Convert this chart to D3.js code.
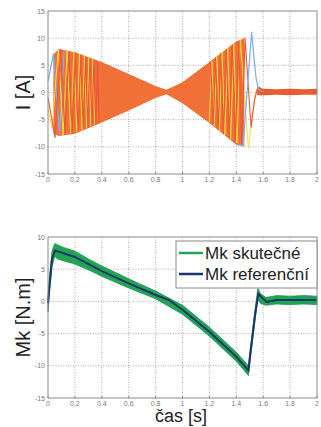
<!DOCTYPE html>
<html>
<head>
<meta charset="utf-8">
<script src="https://cdn.jsdelivr.net/npm/d3@7"></script>
<style>
  html, body { margin: 0; padding: 0; background: #fff; }
  svg { display: block; font-family: "Liberation Sans", Arial, sans-serif; }
</style>
</head>
<body>
<svg id="chart" width="321" height="427"></svg>
<script>
// x ticks shared by both panels
const timeTicks = [0, 0.2, 0.4, 0.6, 0.8, 1, 1.2, 1.4, 1.6, 1.8, 2];
const currentTicks = [-15, -10, -5, 0, 5, 10, 15];
const torqueTicks = [-15, -10, -5, 0, 5, 10];

// top panel: envelope of the dense oscillation
const envT = [0.04, 0.08, 0.2, 0.4, 0.6, 0.8, 0.88, 1.0, 1.2, 1.4, 1.46];
const envUpper = [7.0, 8.0, 7.4, 5.6, 3.4, 1.2, 0.5, 1.9, 5.6, 9.4, 10.0];
const envLower = [-7.5, -8.0, -7.6, -5.5, -3.3, -1.0, -0.3, -2.0, -5.6, -9.6, -10.0];

// settled current after 1.56 s
const tailT = [1.555, 1.6, 1.7, 1.8, 1.9, 2.0];
const tailUpper = [1.0, 0.7, 0.6, 0.7, 0.6, 0.7];
const tailLower = [-0.5, -0.5, -0.4, -0.5, -0.4, -0.4];

// visible phase cycles [t, I]
const blueEarly = [[0, 2], [0.04, 7.1], [0.086, -7.4], [0.12, 7.6]];
const redEarly = [[0, -0.9], [0.052, -8.3], [0.095, 7.9], [0.127, -7.7], [0.155, 7.6], [0.18, -7.4],
  [0.203, 7.3], [0.224, -7.1], [0.244, 6.9], [0.262, -6.8], [0.28, 6.6], [0.296, -6.4],
  [0.312, 6.3], [0.327, -6.1], [0.341, 6.0], [0.355, -5.9], [0.368, 5.7], [0.38, -5.6]];
const yellowEarly = [[0, -3], [0.03, -6.6], [0.077, 8], [0.112, -7.9], [0.142, 7.7], [0.168, -7.5],
  [0.192, 7.4], [0.214, -7.2], [0.234, 7.0], [0.253, -6.9], [0.271, 6.7], [0.288, -6.5],
  [0.304, 6.4], [0.319, -6.2], [0.334, 6.1], [0.348, -5.9]];
const yellowLate = [[1.2, -5.4], [1.218, 5.8], [1.236, -6.2], [1.255, 6.6], [1.274, -7.0], [1.294, 7.4],
  [1.315, -7.8], [1.336, 8.2], [1.358, -8.6], [1.381, 8.9], [1.405, -9.3], [1.43, 9.6],
  [1.49, -10.3], [1.525, -3], [1.545, 0.3]];
const redLate = [[1.21, 5.6], [1.228, -6.0], [1.246, 6.4], [1.265, -6.8], [1.284, 7.2], [1.305, -7.6],
  [1.326, 8.0], [1.347, -8.4], [1.37, 8.8], [1.393, -9.1], [1.418, 9.4], [1.44, -9.8],
  [1.465, 10.0], [1.51, -6.4], [1.535, -1.5], [1.555, 0.6], [1.57, 1.0], [1.6, 0.3]];
const blueLate = [[1.42, -9.6], [1.45, -9.8], [1.514, 11.1], [1.545, 3], [1.564, 0.6], [1.6, 0.1]];

// bottom panel: measured torque band and reference torque
const mkT = [0, 0.01, 0.03, 0.05, 0.07, 0.1, 0.2, 0.3, 0.4, 0.6, 0.8, 1.0, 1.2, 1.4, 1.49,
  1.505, 1.54, 1.56, 1.58, 1.62, 1.7, 1.8, 1.9, 2.0];
const mkUpper = [0.3, 3.5, 7.8, 9.0, 8.8, 8.5, 7.8, 6.6, 5.5, 3.5, 1.6, -0.6, -4.0, -7.9, -10.0,
  -7.2, -1.2, 2.0, 1.2, 0.6, 0.9, 0.8, 0.9, 0.8];
const mkLower = [-1.6, 1.0, 5.4, 7.0, 6.6, 6.4, 5.8, 4.9, 3.9, 2.1, 0.4, -2.0, -5.4, -9.3, -11.5,
  -8.8, -2.8, 0.4, -0.3, -0.6, -0.4, -0.5, -0.4, -0.5];
const refT = [0, 0.01, 0.03, 0.052, 0.1, 0.2, 0.4, 0.6, 0.8, 0.9, 1.0, 1.2, 1.4, 1.49, 1.505,
  1.54, 1.564, 1.59, 1.625, 1.7, 2.0];
const refV = [-0.3, 2.3, 6.6, 7.9, 7.6, 6.9, 4.7, 2.8, 1.0, 0.2, -1.3, -4.7, -8.6, -10.7, -8.0,
  -2.0, 1.2, 0.6, -0.1, 0.2, 0.2];

const legendNames = ["Mk skutečné", "Mk referenční"];

const svg = d3.select("#chart");
const left = 48, right = 317;
const x = d3.scaleLinear().domain([0, 2]).range([left, right]);

function panel(top, bottom, yTicks, yLabel) {
  const y = d3.scaleLinear().domain([yTicks[0], yTicks[yTicks.length - 1]]).range([bottom, top]);
  const g = svg.append("g");
  g.append("rect").attr("x", left).attr("y", top)
    .attr("width", right - left).attr("height", bottom - top).attr("fill", "#fff");

  // dotted grid
  g.selectAll(".gx").data(timeTicks.slice(1, -1)).join("line")
    .attr("x1", d => x(d)).attr("x2", d => x(d)).attr("y1", top).attr("y2", bottom)
    .attr("stroke", "#9a9a9a").attr("stroke-width", 0.8).attr("stroke-dasharray", "1,1.5");
  g.selectAll(".gy").data(yTicks.slice(1, -1)).join("line")
    .attr("x1", left).attr("x2", right).attr("y1", d => y(d)).attr("y2", d => y(d))
    .attr("stroke", "#9a9a9a").attr("stroke-width", 0.8).attr("stroke-dasharray", "1,1.5");

  // tick labels
  g.selectAll(".tx").data(timeTicks).join("text")
    .attr("x", d => x(d)).attr("y", bottom + 8)
    .attr("text-anchor", "middle").attr("font-size", 7).attr("fill", "#7a7a7a")
    .text(d => d3.format("~g")(d));
  g.selectAll(".ty").data(yTicks).join("text")
    .attr("x", left - 3).attr("y", d => y(d) + 2.5)
    .attr("text-anchor", "end").attr("font-size", 7).attr("fill", "#7a7a7a")
    .text(d => d);

  // axis title
  g.append("text")
    .attr("transform", `translate(30,${(top + bottom) / 2}) rotate(-90)`)
    .attr("text-anchor", "middle").attr("font-size", 20).attr("fill", "#222")
    .text(yLabel);
  return { g, y, top, bottom };
}

function frame(p) {
  p.g.append("rect").attr("x", left).attr("y", p.top)
    .attr("width", right - left).attr("height", p.bottom - p.top)
    .attr("fill", "none").attr("stroke", "#8a8a8a").attr("stroke-width", 1);
  // inward ticks
  timeTicks.forEach(t => {
    p.g.append("line").attr("x1", x(t)).attr("x2", x(t)).attr("y1", p.bottom).attr("y2", p.bottom - 2)
      .attr("stroke", "#8a8a8a");
  });
}

// ---- top panel: phase currents
const p1 = panel(11, 174, currentTicks, "I [A]");
const y1 = p1.y;
const band = (ts, up, lo) => d3.area()
  .x((d, i) => x(ts[i])).y0((d, i) => y1(lo[i])).y1((d, i) => y1(up[i]))(ts);
const phaseLine = d3.line().x(d => x(d[0])).y(d => y1(d[1]));

p1.g.append("path").attr("d", band(envT, envUpper, envLower)).attr("fill", "#f07038");
p1.g.append("path").attr("d", band(tailT, tailUpper, tailLower)).attr("fill", "#ec5a34");

// yellow underneath, red on top, blue only where it shows
const phases = [
  [blueEarly, "#7fb3e6", 1.3], [yellowEarly, "#f7dc3c", 1], [redEarly, "#ea5838", 1.1],
  [yellowLate, "#f7dc3c", 1], [redLate, "#ea5838", 1.1], [blueLate, "#7fb3e6", 1.3]
];
phases.forEach(([pts, col, w]) => {
  p1.g.append("path").attr("d", phaseLine(pts))
    .attr("fill", "none").attr("stroke", col).attr("stroke-width", w)
    .attr("stroke-linejoin", "round");
});
frame(p1);

// ---- bottom panel: torque
const p2 = panel(237, 398, torqueTicks, "Mk [N.m]");
const y2 = p2.y;
p2.g.append("path")
  .attr("d", d3.area().x((d, i) => x(mkT[i])).y0((d, i) => y2(mkLower[i])).y1((d, i) => y2(mkUpper[i]))(mkT))
  .attr("fill", "#1fa653").attr("stroke", "#179548").attr("stroke-width", 0.8);
p2.g.append("path")
  .attr("d", d3.line().x((d, i) => x(refT[i])).y((d, i) => y2(refV[i]))(refT))
  .attr("fill", "none").attr("stroke", "#1b3470").attr("stroke-width", 2);
frame(p2);

// legend
const lg = svg.append("g");
lg.append("rect").attr("x", 176).attr("y", 241).attr("width", 141).attr("height", 47)
  .attr("fill", "#fff").attr("stroke", "#8a8a8a");
const legendColors = ["#1fa653", "#1b3470"];
legendNames.forEach((name, i) => {
  const cy = 253 + i * 21;
  lg.append("line").attr("x1", 179).attr("x2", 203).attr("y1", cy).attr("y2", cy)
    .attr("stroke", legendColors[i]).attr("stroke-width", 2.5);
  lg.append("text").attr("x", 205).attr("y", cy + 6)
    .attr("font-size", 17).attr("fill", "#222").text(name);
});

// x axis title
svg.append("text").attr("x", 181).attr("y", 422)
  .attr("text-anchor", "middle").attr("font-size", 18).attr("fill", "#222")
  .text("čas [s]");
</script>
</body>
</html>
